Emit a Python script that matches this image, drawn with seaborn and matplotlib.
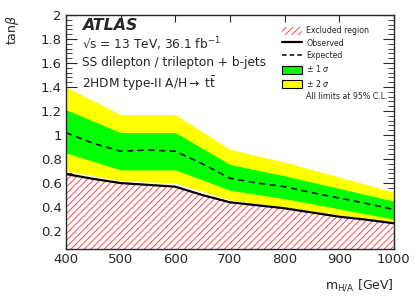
import numpy as np
import pandas as pd
import seaborn as sns
import matplotlib.pyplot as plt
from matplotlib.patches import Patch
from matplotlib.lines import Line2D
from matplotlib.ticker import MultipleLocator

# mass points (GeV) for the bands
mass = [400, 500, 600, 700, 800, 900, 1000]
band2_up = [1.40, 1.17, 1.17, 0.88, 0.775, 0.65, 0.525]
band1_up = [1.21, 1.02, 1.02, 0.755, 0.66, 0.555, 0.45]
band1_dn = [0.85, 0.71, 0.71, 0.54, 0.47, 0.385, 0.30]
band2_dn = [0.70, 0.62, 0.60, 0.46, 0.40, 0.335, 0.275]

# expected / observed limits read at finer steps
mass_fine = [400, 450, 500, 550, 600, 650, 700, 750, 800, 850, 900, 950, 1000]
expected = [1.02, 0.93, 0.865, 0.875, 0.865, 0.76, 0.64, 0.60, 0.57, 0.52, 0.475, 0.43, 0.38]
observed = [0.675, 0.635, 0.60, 0.585, 0.57, 0.50, 0.44, 0.415, 0.39, 0.355, 0.32, 0.295, 0.265]

sns.set_style("ticks")
plt.rcParams['font.family'] = ['DejaVu Sans']
plt.rcParams['hatch.linewidth'] = 0.7

fig = plt.figure(figsize=(4.15, 2.98), dpi=100)
ax = fig.add_axes([0.159, 0.164, 0.790, 0.786])

ymin = 0.05
hatch_col = '#ff4a4a'
ax.fill_between(mass, band2_dn, band2_up, color='#ffff00', lw=0)
ax.fill_between(mass, band1_dn, band1_up, color='#00ff00', lw=0)
ax.fill_between(mass_fine, ymin, observed, facecolor='white', edgecolor=hatch_col,
                hatch='/////', lw=0)

lines = pd.DataFrame({'mass': mass_fine, 'exp': expected, 'obs': observed})
sns.lineplot(data=lines, x='mass', y='exp', color='black', lw=1.1, ls=(0, (4, 3)), ax=ax)
sns.lineplot(data=lines, x='mass', y='obs', color='black', lw=1.6, ax=ax)

ax.set_xlim(400, 1000)
ax.set_ylim(ymin, 2)
ax.xaxis.set_major_locator(MultipleLocator(100))
ax.yaxis.set_major_locator(MultipleLocator(0.2))
ax.yaxis.set_minor_locator(MultipleLocator(0.04))
ax.tick_params(axis='both', direction='in', top=True, right=True, labelsize=9.5, pad=3)
ax.tick_params(axis='x', which='major', length=5)
ax.tick_params(axis='y', which='major', length=8)
ax.tick_params(axis='y', which='minor', length=4, right=True, direction='in')
ax.set_yticks([0.2, 0.4, 0.6, 0.8, 1.0, 1.2, 1.4, 1.6, 1.8, 2.0])
ax.set_yticklabels(['0.2', '0.4', '0.6', '0.8', '1', '1.2', '1.4', '1.6', '1.8', '2'])
for s in ax.spines.values():
    s.set_linewidth(1.0)

ax.set_xlabel(r'm$_{\mathregular{H/A}}$ [GeV]', loc='right', fontsize=9, labelpad=8)
ax.set_ylabel(r'tan$\beta$', loc='top', fontsize=9, labelpad=14)

tx = 0.049
ax.text(tx, 0.953, 'ATLAS', transform=ax.transAxes, fontsize=11.4,
        fontweight='bold', fontstyle='italic', va='center')
ax.text(tx, 0.876, '\u221as = 13 TeV, 36.1 fb$^{\\mathregular{-1}}$',
        transform=ax.transAxes, fontsize=8.7, va='center')
ax.text(tx, 0.795, 'SS dilepton / trilepton + b-jets', transform=ax.transAxes,
        fontsize=8.7, va='center')
ax.text(tx, 0.705, r'2HDM type-II A/H$\rightarrow$ t$\bar{\mathregular{t}}$',
        transform=ax.transAxes, fontsize=8.7, va='center')

handles = [
    Patch(facecolor='white', edgecolor=hatch_col, hatch='/////', lw=0),
    Line2D([], [], color='black', lw=1.6),
    Line2D([], [], color='black', lw=1.1, ls=(0, (3, 2))),
    Patch(facecolor='#00ff00', edgecolor='black', lw=0.8),
    Patch(facecolor='#ffff00', edgecolor='black', lw=0.8),
    Line2D([], [], color='none'),
]
labels = ['Excluded region', 'Observed', 'Expected', r'$\pm$ 1 $\sigma$',
          r'$\pm$ 2 $\sigma$', 'All limits at 95% C.L.']
leg = ax.legend(handles, labels, loc='upper left', bbox_to_anchor=(0.648, 0.965),
                frameon=False, fontsize=5.7, handlelength=2.6, handleheight=1.2,
                handletextpad=0.5, labelspacing=0.42, borderaxespad=0)

fig.savefig('out.png', dpi=100)
